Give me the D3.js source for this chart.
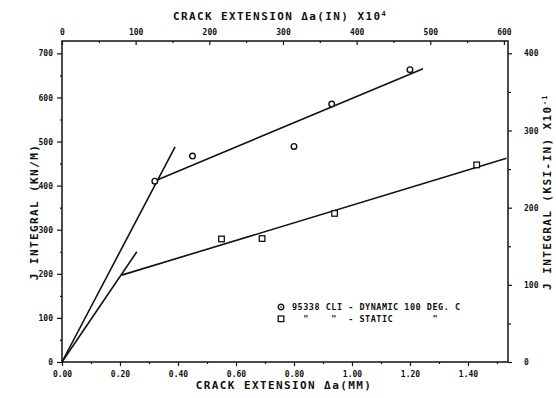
<!DOCTYPE html>
<html lang="en">
<head>
<meta charset="utf-8">
<title>J integral vs crack extension</title>
<script src="https://d3js.org/d3.v7.min.js"></script>
<style>
body { margin: 0; background: #fff; }
svg text { font-family: "DejaVu Sans Mono", monospace; font-weight: bold; fill: #111; }
.tick text { font-size: 8px; }
.title { font-size: 11px; letter-spacing: 1.4px; }
</style>
</head>
<body>
<script>
// chart values
var dynamicPts = [[0.32, 410], [0.45, 467], [0.80, 489], [0.93, 585], [1.20, 663]];
var staticPts = [[0.55, 279], [0.69, 280], [0.94, 337], [1.43, 447]];
var dynamicBlunt = [[0, 0], [0.39, 488]];
var dynamicFit = [[0.328, 413], [1.245, 665]];
var staticBlunt = [[0, 0], [0.258, 250]];
var staticFit = [[0.206, 197], [1.533, 462]];
var bottomTicks = [0, 0.2, 0.4, 0.6, 0.8, 1.0, 1.2, 1.4];
var leftTicks = [0, 100, 200, 300, 400, 500, 600, 700];
var topTicks = [0, 100, 200, 300, 400, 500, 600];
var rightTicks = [0, 100, 200, 300, 400];
var legendRows = ["95338 CLI - DYNAMIC 100 DEG. C", "  \"    \"  - STATIC       \""];

var w = 556, h = 398;
var x0 = 62, x1 = 508, y0 = 362, y1 = 41;
var xMax = 1.538, yMax = 728;

var svg = d3.select("body").append("svg")
    .attr("width", w)
    .attr("height", h);

var x = d3.scaleLinear().domain([0, xMax]).range([x0, x1]);
var y = d3.scaleLinear().domain([0, yMax]).range([y0, y1]);
// inches x10^4 on top, ksi-in x10^-1 on the right
var xTop = d3.scaleLinear().domain([0, xMax / 25.4 * 10000]).range([x0, x1]);
var yRight = d3.scaleLinear().domain([0, yMax * 400 / 700]).range([y0, y1]);

function minor(scale, step) {
    var d = scale.domain(), out = [];
    for (var v = step / 2; v < d[1]; v += step) out.push(v);
    return out;
}

// frame
svg.append("rect")
    .attr("x", x0).attr("y", y1)
    .attr("width", x1 - x0).attr("height", y0 - y1)
    .attr("fill", "none").attr("stroke", "#111").attr("stroke-width", 1.5);

// minor ticks
svg.append("g").attr("transform", "translate(0," + y0 + ")")
    .call(d3.axisBottom(x).tickValues(minor(x, 0.2)).tickSize(2).tickFormat(""))
    .call(function(g) { g.select(".domain").remove(); });
svg.append("g").attr("transform", "translate(" + x0 + ",0)")
    .call(d3.axisLeft(y).tickValues(minor(y, 100)).tickSize(2).tickFormat(""))
    .call(function(g) { g.select(".domain").remove(); });
svg.append("g").attr("transform", "translate(0," + y1 + ")")
    .call(d3.axisBottom(xTop).tickValues(minor(xTop, 100)).tickSize(2).tickFormat(""))
    .call(function(g) { g.select(".domain").remove(); });
svg.append("g").attr("transform", "translate(" + x1 + ",0)")
    .call(d3.axisRight(yRight).tickValues(minor(yRight, 100)).tickSize(3).tickFormat(""))
    .call(function(g) { g.select(".domain").remove(); });

// major ticks
svg.append("g").attr("transform", "translate(0," + y0 + ")")
    .call(d3.axisBottom(x).tickValues(bottomTicks).tickSize(4).tickPadding(5).tickFormat(d3.format(".2f")))
    .call(function(g) { g.select(".domain").remove(); });
svg.append("g").attr("transform", "translate(" + x0 + ",0)")
    .call(d3.axisLeft(y).tickValues(leftTicks).tickSize(5).tickPadding(4))
    .call(function(g) { g.select(".domain").remove(); });
svg.append("g").attr("transform", "translate(0," + y1 + ")")
    .call(d3.axisTop(xTop).tickValues(topTicks).tickSize(-4).tickPadding(6))
    .call(function(g) { g.select(".domain").remove(); });
svg.append("g").attr("transform", "translate(" + x1 + ",0)")
    .call(d3.axisRight(yRight).tickValues(rightTicks).tickSize(4).tickPadding(12))
    .call(function(g) { g.select(".domain").remove(); });

svg.selectAll(".tick line").attr("stroke", "#111").attr("stroke-width", 1.2);

// titles
svg.append("text").attr("class", "title")
    .attr("x", 280).attr("y", 20).attr("text-anchor", "middle")
    .text("CRACK EXTENSION  \u0394a(IN) X10")
    .append("tspan").attr("dy", -4).attr("font-size", "7px").text("4");
svg.append("text").attr("class", "title")
    .attr("x", 284).attr("y", 389).attr("text-anchor", "middle")
    .text("CRACK EXTENSION  \u0394a(MM)");
svg.append("text").attr("class", "title")
    .attr("transform", "translate(38,212) rotate(-90)")
    .attr("text-anchor", "middle")
    .text("J INTEGRAL (KN/M)");
svg.append("text").attr("class", "title")
    .attr("transform", "translate(551,192) rotate(-90)")
    .attr("text-anchor", "middle")
    .text("J INTEGRAL (KSI-IN) X10")
    .append("tspan").attr("dy", -4).attr("font-size", "7px").text("-1");

// lines
var line = d3.line().x(function(d) { return x(d[0]); }).y(function(d) { return y(d[1]); });
svg.selectAll(".fit")
    .data([dynamicBlunt, dynamicFit, staticBlunt, staticFit])
    .enter().append("path")
    .attr("class", "fit")
    .attr("d", line)
    .attr("fill", "none")
    .attr("stroke", "#111")
    .attr("stroke-width", 1.6);

// markers
svg.selectAll(".dyn")
    .data(dynamicPts)
    .enter().append("circle")
    .attr("class", "dyn")
    .attr("cx", function(d) { return x(d[0]); })
    .attr("cy", function(d) { return y(d[1]); })
    .attr("r", 2.8)
    .attr("fill", "#fff").attr("stroke", "#111").attr("stroke-width", 1.4);
svg.selectAll(".sta")
    .data(staticPts)
    .enter().append("rect")
    .attr("class", "sta")
    .attr("x", function(d) { return x(d[0]) - 2.8; })
    .attr("y", function(d) { return y(d[1]) - 2.8; })
    .attr("width", 5.6).attr("height", 5.6)
    .attr("fill", "#fff").attr("stroke", "#111").attr("stroke-width", 1.3);

// legend
var legend = svg.append("g").attr("transform", "translate(281,307)");
legend.append("circle").attr("r", 2.8).attr("fill", "#fff").attr("stroke", "#111").attr("stroke-width", 1.4);
legend.append("circle").attr("r", 0.8).attr("fill", "#111");
legend.append("rect").attr("x", -2.8).attr("y", 9).attr("width", 5.6).attr("height", 5.6)
    .attr("fill", "#fff").attr("stroke", "#111").attr("stroke-width", 1.3);
legend.selectAll(".lg")
    .data(legendRows)
    .enter().append("text")
    .attr("class", "lg")
    .attr("x", 11)
    .attr("y", function(d, i) { return 3 + i * 11.5; })
    .attr("font-size", "8.5px")
    .attr("letter-spacing", "0.5px")
    .style("white-space", "pre")
    .text(function(d) { return d; });
</script>
</body>
</html>
